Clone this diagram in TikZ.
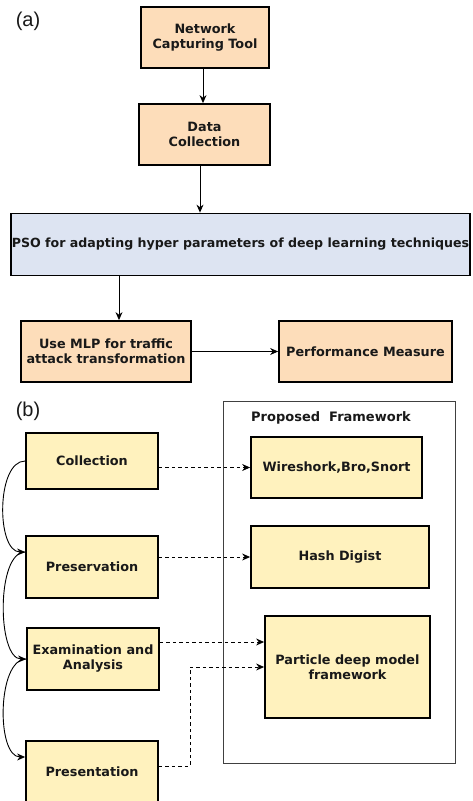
\documentclass[tikz,border=0pt]{standalone}
\usepackage{fontspec}
\setmainfont{DejaVu Sans}
\newfontfamily\labelfont{Liberation Sans}
\usetikzlibrary{arrows.meta,positioning}
\definecolor{peach}{RGB}{253,221,186}
\definecolor{paleblue}{RGB}{221,228,242}
\definecolor{paleyellow}{RGB}{255,242,190}
\definecolor{txt}{RGB}{25,25,25}
\begin{document}
\begin{tikzpicture}[x=1pt,y=-1pt,
  box/.style={draw=black,line width=1.8pt,align=center,inner sep=2pt,
    font=\bfseries\fontsize{12.8}{15}\selectfont,text=txt},
  pbox/.style={box,fill=peach},
  ybox/.style={box,fill=paleyellow},
  arr/.style={line width=0.9pt,-{Stealth[length=8pt,width=7pt]}},
  darr/.style={line width=0.9pt,dash pattern=on 3.5pt off 3pt,-{Stealth[length=8pt,width=7pt]}},
  carr/.style={line width=0.9pt,-{Stealth[length=8pt,width=7pt]}},
  lbl/.style={font=\labelfont\fontsize{20}{22}\selectfont,text=txt}]
\useasboundingbox (0,0) rectangle (472,801);
\clip (0,0) rectangle (472,801);
\fill[white] (0,0) rectangle (472,801);
% (a)
\node[lbl] (la) at (28,21) {(a)};
\node[pbox,minimum width=128pt,minimum height=61pt] (n1) at (205,37.5) {Network\\Capturing Tool};
\node[pbox,minimum width=131pt,minimum height=61pt] (n2) at (204.5,134.5) {Data\\Collection};
\node[box,fill=paleblue,minimum width=459pt,minimum height=62pt,inner sep=0pt,font=\bfseries\fontsize{12.6}{14}\selectfont] (pso) at (240.5,244.5) {PSO for adapting hyper parameters of deep learning techniques};
\node[pbox,minimum width=170pt,minimum height=61pt] (mlp) at (106,351.5) {Use MLP for traffic\\attack transformation};
\node[pbox,minimum width=173pt,minimum height=61pt] (perf) at (365.5,351.5) {Performance Measure};
\draw[arr] ([xshift=-2pt]n1.south) -- ([xshift=-1.5pt]n2.north);
\draw[arr] ([xshift=-4.5pt]n2.south) -- ([xshift=-4.5pt]n2.south |- pso.north);
\draw[arr] ([xshift=13pt]mlp.north |- pso.south) -- ([xshift=13pt]mlp.north);
\draw[arr] (mlp.east) -- (perf.west);
% (b)
\node[lbl] (lb) at (28,411) {(b)};
\node[draw=black!75,line width=1pt,minimum width=232pt,minimum height=362pt] (frame) at (339,582) {};
\node[font=\bfseries\fontsize{13}{15}\selectfont,text=txt] (title) at (331,418) {Proposed\ \ Framework};
\node[ybox,minimum width=132pt,minimum height=56pt] (coll) at (92,461) {Collection};
\node[ybox,minimum width=171pt,minimum height=61pt] (wire) at (336.5,467.5) {Wireshork,Bro,Snort};
\node[ybox,minimum width=132pt,minimum height=62pt] (pres) at (92,567) {Preservation};
\node[ybox,minimum width=178pt,minimum height=62pt] (hash) at (340,557) {Hash Digist};
\node[ybox,minimum width=132pt,minimum height=62pt] (exam) at (93,659) {Examination and\\Analysis};
\node[ybox,minimum width=165pt,minimum height=102pt] (part) at (347.5,667) {Particle deep model\\framework};
\node[ybox,minimum width=132pt,minimum height=62pt] (prsn) at (92,772) {Presentation};
\draw[darr] (coll.east |- wire.west) -- (wire.west);
\draw[darr] (pres.east |- hash.west) -- (hash.west);
\draw[darr] ([yshift=17pt]exam.east) -- ([yshift=17pt]exam.east -| part.west);
\draw[darr] ([yshift=6pt]prsn.east) -| ([xshift=-74pt]part.west) -- (part.west);
\draw[carr] (coll.west) .. controls +(-29,0) and +(-29,0) .. ([yshift=15pt]pres.west);
\draw[carr] ([yshift=15pt]pres.west) .. controls +(-29,0) and +(-29,0) .. (exam.west);
\draw[carr] (exam.west) .. controls +(-29,0) and +(-29,0) .. ([yshift=15pt]prsn.west);
\end{tikzpicture}
\end{document}
